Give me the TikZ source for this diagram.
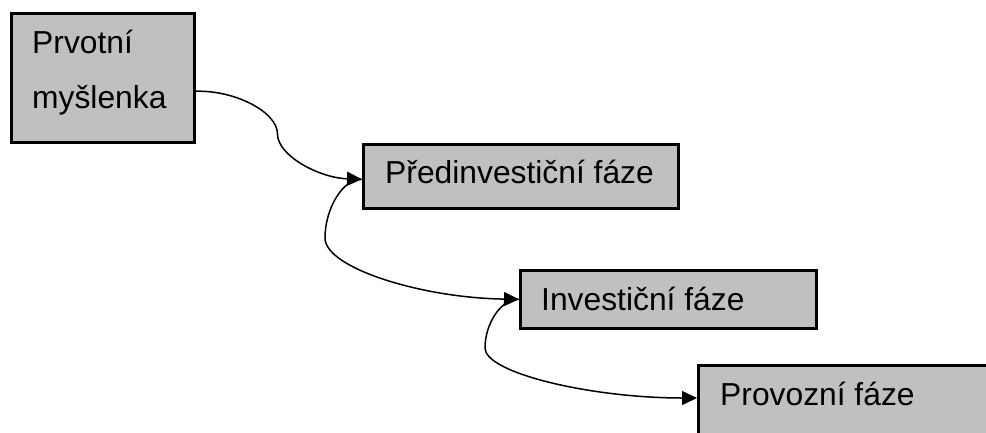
\documentclass[tikz,border=0pt]{standalone}
\usepackage{fontspec}
\setmainfont{Liberation Sans}
\usetikzlibrary{arrows.meta}
\definecolor{boxgray}{HTML}{C0C0C0}
\begin{document}
\begin{tikzpicture}[x=1pt,y=-1pt,
  phase/.style={draw=black, line width=2.5pt, fill=boxgray, inner sep=0pt,
                anchor=north west},
  phasetext/.style={anchor=base west, inner sep=0pt,
                    font=\fontsize{31.8}{38}\selectfont, text=black},
  link/.style={line width=1.5pt, -{Triangle[length=15pt,width=14pt]}}]
  % page frame
  \fill[white] (0,0) rectangle (986,432);
  \useasboundingbox (0,0) rectangle (986,432);

  % phase boxes
  \node[phase, minimum width=183pt, minimum height=129pt] (b1) at (10,12) {};
  \node[phase, minimum width=315pt, minimum height=64pt]  (b2) at (362,143) {};
  \node[phase, minimum width=296pt, minimum height=58pt]  (b3) at (519,269) {};
  \node[phase, minimum width=320pt, minimum height=80pt]  (b4) at (697,364) {};

  % box captions
  \node[phasetext] (t1a) at (32,53)  {Prvotní};
  \node[phasetext] (t1b) at (32,108) {myšlenka};
  \node[phasetext] (t2)  at (385,183) {Předinvestiční fáze};
  \node[phasetext] (t3)  at (541,310) {Investiční fáze};
  \node[phasetext] (t4)  at (720,405) {Provozní fáze};

  % connector end points on the box sides
  \coordinate (c1s) at ([yshift=-13.5pt]b1.east);
  \coordinate (c2e) at ([yshift=-3pt]b2.west);
  \coordinate (c4e) at ([yshift=-34pt]b4.north west);

  % curved connectors
  \draw[link] (c1s) .. controls (235,90) and (277.5,112) .. (277.5,134)
              .. controls (277.5,156) and (320,178) .. (c2e);
  \draw[link] (c2e) .. controls (343.5,178) and (325,208) .. (325,238)
              .. controls (325,268) and (422,298) .. (b3.west);
  \draw[link] (b3.west) .. controls (502,298) and (485,323) .. (485,348)
              .. controls (485,373) and (591,398) .. (c4e);
\end{tikzpicture}
\end{document}
